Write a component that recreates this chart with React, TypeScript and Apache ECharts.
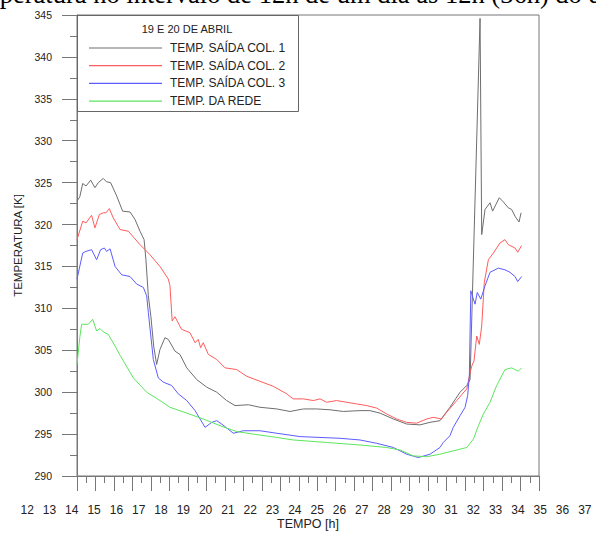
import React, { useEffect, useRef } from "react";
import * as echarts from "echarts";

const hourLabels = ["12","13","14","15","16","17","18","19","20","21","22","23","24","25","26","27","28","29","30","31","32","33","34","35","36","37"];

const seriesNames = ["TEMP. SAÍDA COL. 1", "TEMP. SAÍDA COL. 2", "TEMP. SAÍDA COL. 3", "TEMP. DA REDE"];
const seriesColors = ["#6e6e6e", "#ff5c5c", "#5c5cff", "#5ce65c"];

const col1: [number, number][] = [
  [12.0, 322.8], [12.15, 323.3], [12.31, 324.9], [12.49, 324.6], [12.74, 325.3], [12.97, 324.4], [13.15, 325.0], [13.42, 325.5], [13.6, 325.1], [13.82, 325.0], [14.15, 323.4], [14.47, 321.6], [14.87, 321.5], [15.14, 320.6], [15.41, 319.2], [15.63, 318.2], [15.73, 315.8], [15.86, 311.5], [16.0, 309.0], [16.15, 305.5], [16.31, 303.3], [16.49, 305.1], [16.76, 306.5], [16.94, 306.3], [17.3, 304.9], [17.57, 304.5], [17.94, 302.9], [18.48, 301.5], [19.02, 300.6], [19.56, 300.0], [20.1, 299.0], [20.55, 298.4], [21.27, 298.5], [21.9, 298.2], [22.81, 298.0], [23.53, 297.7], [24.25, 298.0], [24.97, 298.0], [25.69, 297.9], [26.41, 297.7], [27.31, 297.8], [27.85, 297.8], [28.4, 297.5], [29.12, 296.8], [29.84, 296.2], [30.56, 296.1], [31.1, 296.4], [31.64, 296.6], [32.18, 298.2], [32.73, 300.0], [33.09, 300.8], [33.27, 301.5], [33.81, 344.6], [33.9, 318.8], [34.08, 321.8], [34.35, 322.6], [34.49, 321.6], [34.85, 323.2], [35.07, 322.7], [35.34, 322.0], [35.52, 321.8], [35.7, 321.0], [35.92, 320.3], [36.03, 321.4]
];

const col2: [number, number][] = [
  [12.0, 318.2], [12.31, 320.4], [12.49, 320.2], [12.79, 321.1], [12.97, 319.6], [13.21, 321.2], [13.42, 321.4], [13.57, 321.4], [13.75, 321.9], [13.96, 320.8], [14.33, 319.4], [14.78, 319.2], [15.41, 317.6], [15.95, 316.4], [16.49, 315.0], [16.94, 313.5], [17.03, 312.7], [17.15, 308.5], [17.3, 309.0], [17.66, 307.5], [18.11, 307.1], [18.39, 305.9], [18.56, 306.3], [18.69, 305.3], [18.83, 305.9], [19.11, 304.5], [19.56, 303.9], [20.01, 302.9], [20.64, 302.7], [21.18, 301.9], [21.9, 301.3], [22.62, 300.7], [23.35, 299.8], [23.7, 299.2], [24.25, 299.2], [24.79, 299.0], [25.15, 299.2], [25.51, 298.8], [26.05, 299.0], [26.59, 298.8], [27.13, 298.6], [27.68, 298.4], [28.22, 298.1], [28.76, 297.4], [29.3, 296.8], [29.84, 296.4], [30.38, 296.3], [30.92, 296.8], [31.28, 297.0], [31.73, 296.8], [32.0, 297.6], [32.55, 299.0], [33.09, 300.4], [33.27, 302.3], [33.36, 303.1], [33.48, 303.7], [33.63, 306.7], [33.77, 305.7], [33.9, 307.9], [34.04, 313.1], [34.26, 315.8], [34.53, 316.6], [34.89, 317.8], [35.16, 318.2], [35.34, 317.6], [35.7, 317.2], [35.85, 316.7], [36.06, 317.5]
];

const col3: [number, number][] = [
  [12.0, 313.5], [12.31, 316.6], [12.49, 316.8], [12.79, 317.0], [13.06, 315.8], [13.28, 317.0], [13.48, 317.2], [13.6, 316.8], [13.79, 317.1], [14.06, 315.0], [14.42, 314.0], [14.87, 313.8], [15.23, 312.9], [15.59, 312.5], [15.77, 311.5], [15.86, 309.5], [16.13, 303.9], [16.4, 301.7], [16.67, 301.2], [17.12, 300.8], [17.48, 299.8], [17.94, 299.0], [18.39, 297.8], [18.93, 295.8], [19.29, 296.4], [19.56, 296.6], [19.83, 296.2], [20.46, 295.1], [21.0, 295.4], [21.9, 295.4], [22.81, 295.1], [24.07, 294.7], [25.15, 294.6], [26.23, 294.5], [27.31, 294.3], [28.22, 293.9], [29.12, 293.4], [29.84, 292.6], [30.47, 292.2], [31.1, 292.6], [31.64, 293.4], [31.82, 294.0], [32.18, 294.8], [32.36, 295.8], [32.73, 297.2], [33.0, 298.2], [33.14, 299.6], [33.23, 301.9], [33.31, 312.1], [33.45, 311.1], [33.54, 310.5], [33.66, 311.9], [33.85, 311.1], [34.08, 312.7], [34.35, 314.3], [34.8, 314.8], [35.16, 314.6], [35.43, 314.3], [35.7, 313.8], [35.85, 313.2], [36.06, 313.8]
];

const rede: [number, number][] = [
  [12.0, 303.3], [12.15, 306.5], [12.25, 308.1], [12.61, 308.1], [12.85, 308.7], [13.06, 307.3], [13.24, 307.6], [13.42, 307.2], [13.69, 306.9], [14.06, 305.5], [14.33, 304.4], [15.05, 301.7], [15.77, 300.0], [16.49, 299.0], [17.03, 298.2], [17.94, 297.5], [18.83, 296.8], [19.74, 296.0], [20.64, 295.3], [21.54, 295.0], [22.81, 294.6], [23.7, 294.3], [25.51, 294.0], [27.31, 293.7], [28.76, 293.4], [29.48, 293.1], [30.2, 292.4], [30.92, 292.3], [31.64, 292.6], [32.36, 293.0], [33.09, 293.4], [33.45, 294.4], [33.72, 296.0], [33.99, 297.4], [34.35, 298.8], [34.71, 300.8], [35.16, 302.7], [35.52, 302.9], [35.88, 302.5], [36.06, 302.9]
];

const seriesData = [col1, col2, col3, rede];

const legendTitle = "19 E 20 DE ABRIL";
const captionText = "temperatura no intervalo de 12h de um dia às 12h (36h) do dia";

export default function App() {
  const ref = useRef<HTMLDivElement>(null);
  useEffect(() => {
    if (!ref.current) return;
    const chart = echarts.init(ref.current, null, { renderer: "svg" });
    const axisColor = "#777";
    const font = "'Liberation Sans', Arial, sans-serif";
    chart.setOption({
      animation: false,
      backgroundColor: "#fff",
      textStyle: { fontFamily: font },
      grid: [
        { left: 77, top: 15, width: 462, height: 462, show: true, borderColor: axisColor, borderWidth: 1, backgroundColor: "transparent" },
        { left: 16, width: 580, top: 495, height: 1, show: false },
      ],
      xAxis: [
        {
          type: "value", gridIndex: 0, min: 12, max: 37, interval: 1,
          axisLine: { lineStyle: { color: axisColor } },
          axisTick: { length: 15, lineStyle: { color: axisColor } },
          minorTick: { show: true, splitNumber: 2, length: 7, lineStyle: { color: axisColor } },
          axisLabel: { show: false },
          splitLine: { show: false },
          name: "TEMPO [h]", nameLocation: "middle", nameGap: 41,
          nameTextStyle: { fontSize: 12.5, color: "#222", fontFamily: font },
        },
        {
          type: "category", gridIndex: 1, data: hourLabels,
          axisLine: { show: false }, axisTick: { show: false }, splitLine: { show: false },
          axisLabel: { fontSize: 12, color: "#222", margin: 8, interval: 0, fontFamily: font },
        },
      ],
      yAxis: [
        {
          type: "value", gridIndex: 0, min: 290, max: 345, interval: 5,
          axisLine: { show: true, lineStyle: { color: axisColor } },
          axisTick: { show: true, length: 15, lineStyle: { color: axisColor } },
          minorTick: { show: true, splitNumber: 2, length: 7, lineStyle: { color: axisColor } },
          axisLabel: { fontSize: 10.5, color: "#222", margin: 25, fontFamily: font },
          splitLine: { show: false },
          name: "TEMPERATURA [K]", nameLocation: "middle", nameGap: 53, nameRotate: 90,
          nameTextStyle: { fontSize: 11.5, color: "#222", fontFamily: font },
        },
        { type: "value", gridIndex: 1, show: false },
      ],
      legend: {
        orient: "vertical", left: 84, top: 36,
        icon: "rect",
        itemWidth: 73, itemHeight: 1.2, itemGap: 3.7,
        textStyle: { fontSize: 12, lineHeight: 14, color: "#222", fontFamily: font, padding: [0, 0, 0, 3] },
        data: seriesNames,
      },
      graphic: [
        {
          type: "rect", z: 100,
          shape: { x: 77.5, y: 15.5, width: 221, height: 96 },
          style: { fill: "none", stroke: "#666", lineWidth: 1 },
        },
        {
          type: "text", x: 187, y: 29, z: 100,
          style: { text: legendTitle, align: "center", verticalAlign: "middle", fontSize: 11, fill: "#222", fontFamily: font },
        },
        {
          type: "text", x: -40, y: -6, z: 100,
          style: { text: captionText, align: "left", verticalAlign: "middle", fontSize: 26.5, fill: "#000", fontFamily: "'Liberation Serif', 'Times New Roman', serif" },
        },
      ],
      series: seriesData.map((d, i) => ({
        name: seriesNames[i],
        type: "line",
        xAxisIndex: 0,
        yAxisIndex: 0,
        data: d,
        symbol: "none",
        lineStyle: { width: 1, color: seriesColors[i] },
        itemStyle: { color: seriesColors[i] },
      })),
    });
    return () => chart.dispose();
  }, []);
  return (
    <div
      ref={ref}
      style={{ position: "fixed", left: 0, top: 0, width: 596, height: 535 }}
    />
  );
}
